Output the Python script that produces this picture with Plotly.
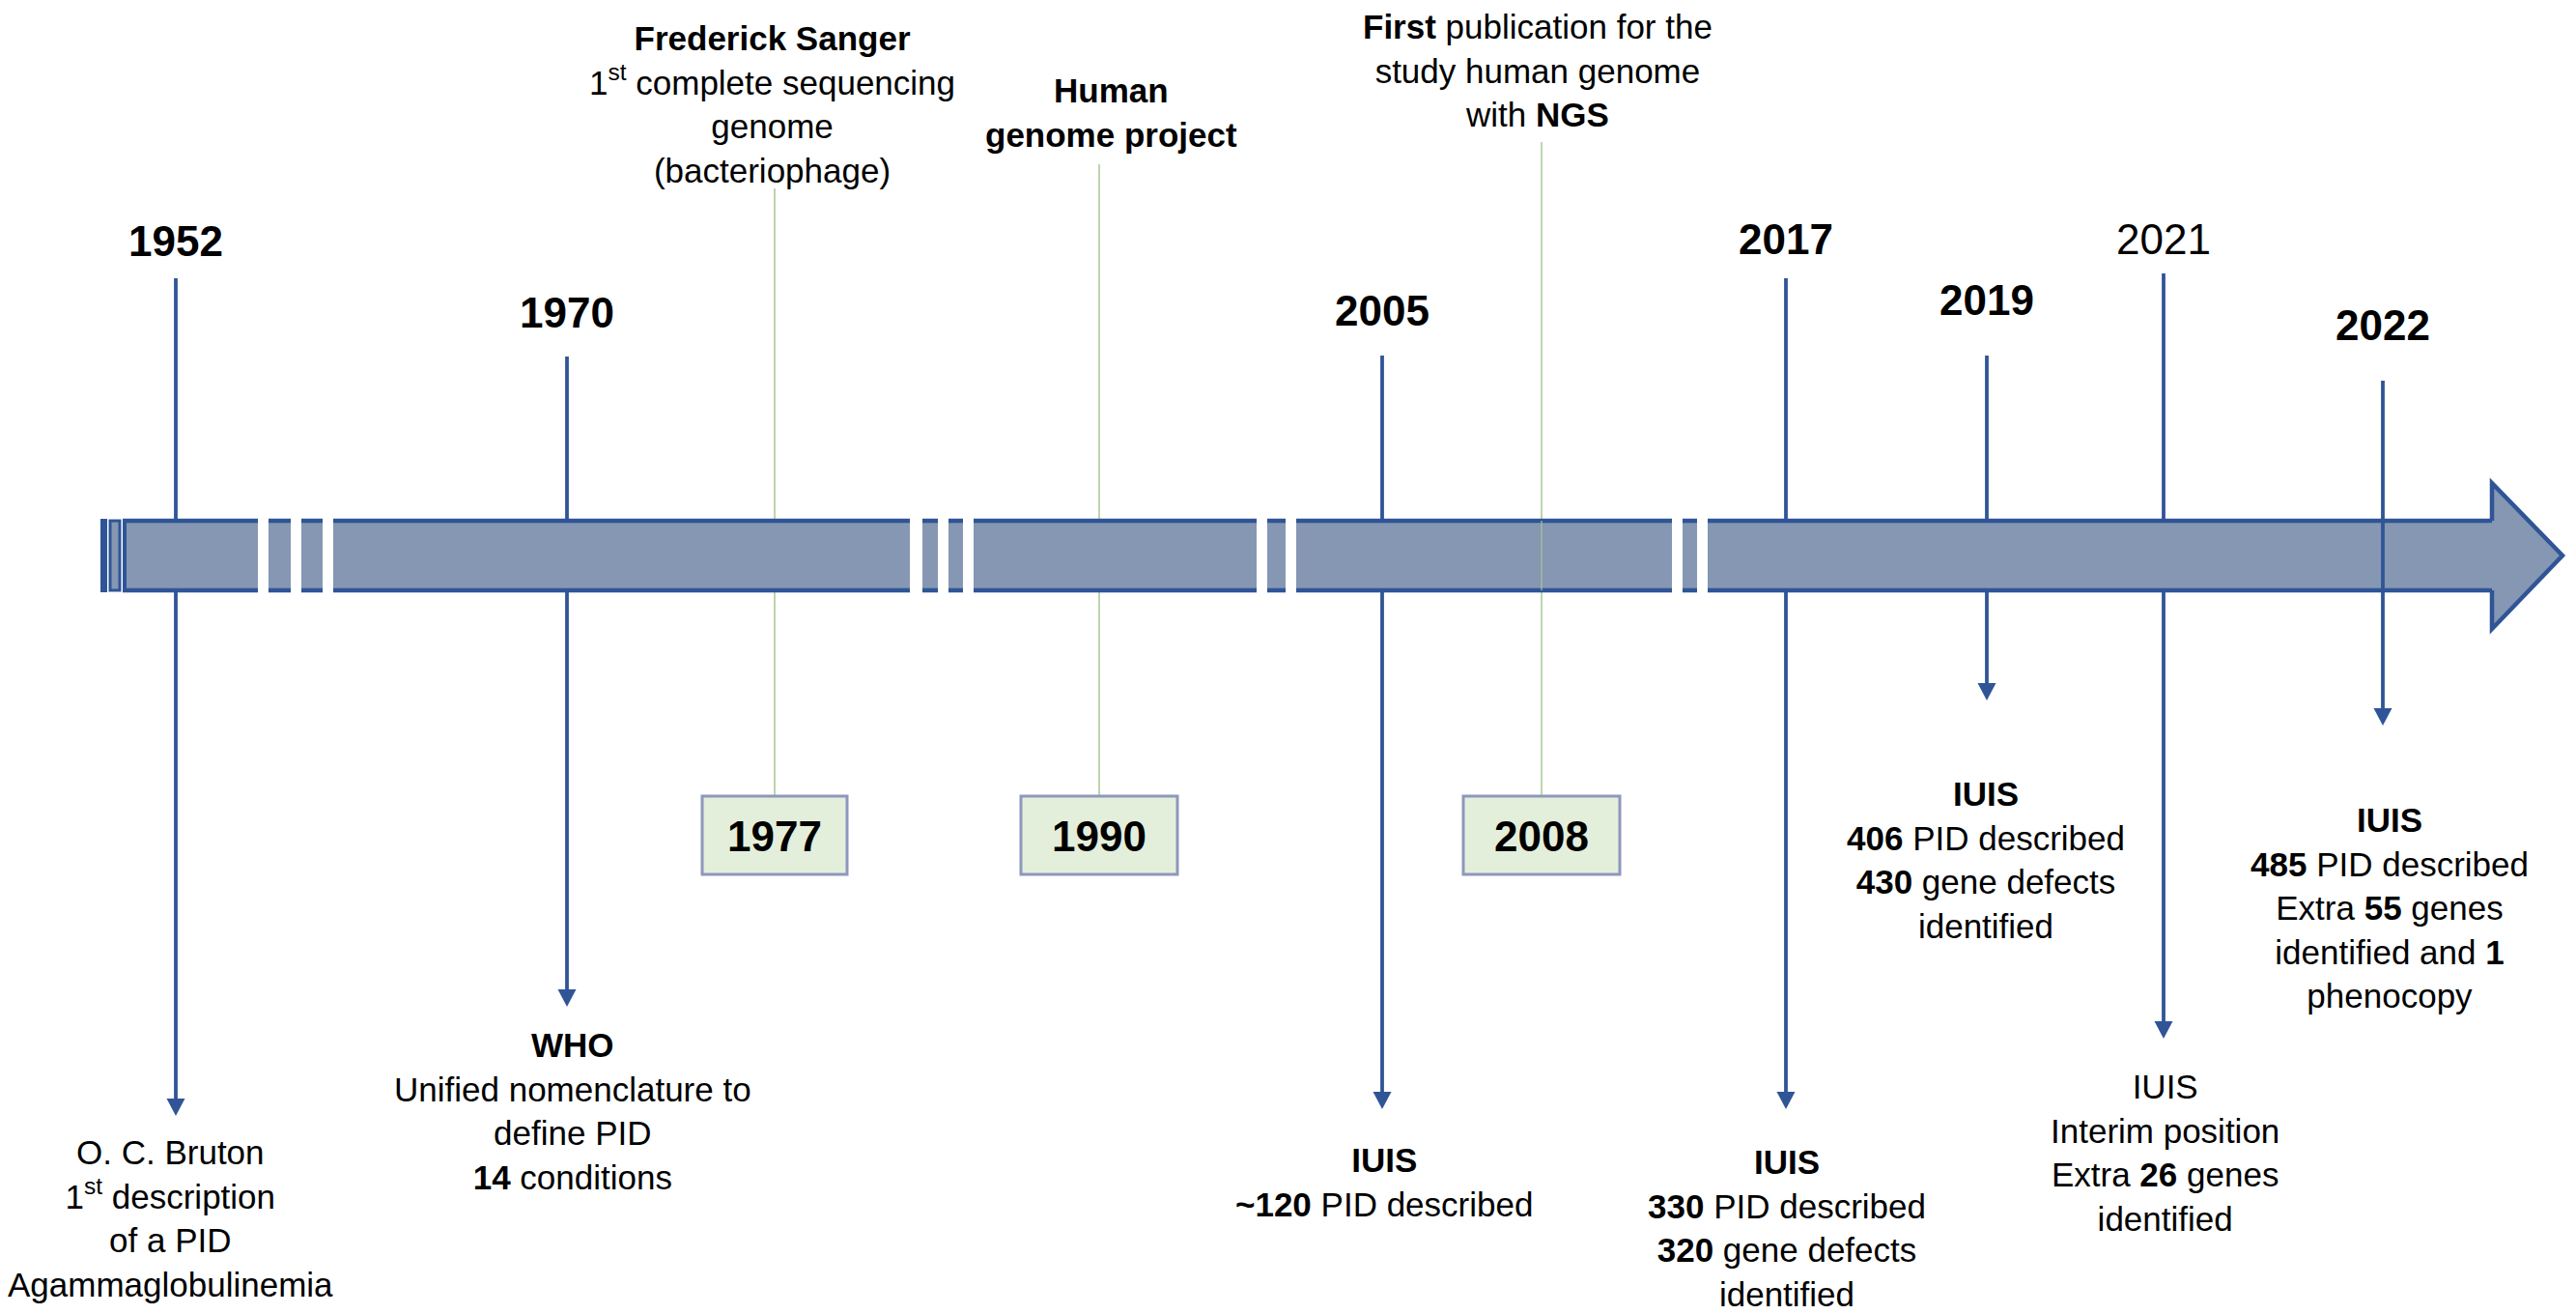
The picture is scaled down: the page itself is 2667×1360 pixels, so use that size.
import plotly.graph_objects as go

# ---------------- data ----------------
blue_years = ["1952", "1970", "2005", "2017", "2019", "2021", "2022"]
blue_year_bold = [True, True, True, True, True, False, True]
blue_desc = [
    ["O. C. Bruton", "1<sup>st</sup> description", "of a PID", "Agammaglobulinemia"],
    ["<b>WHO</b>", "Unified nomenclature to", "define PID", "<b>14</b> conditions"],
    ["<b>IUIS</b>", "<b>~120</b> PID described"],
    ["<b>IUIS</b>", "<b>330</b> PID described", "<b>320</b> gene defects", "identified"],
    ["<b>IUIS</b>", "<b>406</b> PID described", "<b>430</b> gene defects", "identified"],
    ["IUIS", "Interim position", "Extra <b>26</b> genes", "identified"],
    ["<b>IUIS</b>", "<b>485</b> PID described", "Extra <b>55</b> genes",
     "identified and <b>1</b>", "phenocopy"],
]
green_years = ["1977", "1990", "2008"]
green_desc = [
    ["<b>Frederick Sanger</b>", "1<sup>st</sup> complete sequencing", "genome", "(bacteriophage)"],
    ["<b>Human</b>", "<b>genome project</b>"],
    ["<b>First</b> publication for the", "study human genome", "with <b>NGS</b>"],
]

# ---------------- layout (pixel positions) ----------------
W, H = 2667, 1360
OFF = 8  # default page body margin
BAR_TOP, BAR_BOT = 539, 611
blue_x = [182, 587, 1431, 1849, 2057, 2240, 2467]
blue_top = [288, 369, 368, 288, 368, 283, 394]
blue_tip = [1155, 1042, 1148, 1148, 725, 1075, 751]
blue_label_y = [249, 323, 321, 247, 310, 247, 336]
blue_desc_x = [176, 593, 1433, 1850, 2056, 2241, 2474]
blue_desc_y0 = [1190, 1079, 1200, 1200, 819, 1122, 845]
green_x = [802, 1138, 1596]
green_top = [195, 170, 147]
green_text_x = [799, 1150, 1592]
green_text_y0 = [37, 93, 26]
box_half = [75, 81, 81]
BOX_TOP, BOX_BOT = 824, 905
segments = [(127, 267), (278, 301), (312, 334), (345, 942), (955, 971), (982, 997),
            (1008, 1301), (1312, 1331), (1342, 1731), (1742, 1757), (1768, 2581)]
HEAD_X, HEAD_TOP, HEAD_BOT, TIP_X = 2580, 500, 651, 2653

BLUE = "#2F5597"
FILL = "#8597B2"
GREEN = "#A6C995"
BOX_FILL = "#E3EFDB"
BOX_LINE = "#8E98BC"
FONT = "Liberation Sans, Arial, sans-serif"
FS = 35
FS_YEAR = 44
LH = 47.0

fig = go.Figure()
shapes = []
ann = []

# green connector lines (behind the bar)
for i, gx in enumerate(green_x):
    shapes.append(dict(type="line", x0=gx, x1=gx, y0=green_top[i], y1=BOX_TOP,
                       line=dict(color=GREEN, width=1.5), layer="below"))

# bar fill + outlines
for (a, b) in segments:
    shapes.append(dict(type="rect", x0=a, x1=b, y0=BAR_TOP, y1=BAR_BOT,
                       fillcolor=FILL, line=dict(width=0)))
    shapes.append(dict(type="line", x0=a, x1=b, y0=BAR_TOP, y1=BAR_TOP,
                       line=dict(color=BLUE, width=4.5)))
    shapes.append(dict(type="line", x0=a, x1=b, y0=BAR_BOT, y1=BAR_BOT,
                       line=dict(color=BLUE, width=4.5)))
# left end cap details
shapes.append(dict(type="rect", x0=104, x1=111, y0=BAR_TOP - 2, y1=BAR_BOT + 2,
                   fillcolor=BLUE, line=dict(width=0)))
shapes.append(dict(type="rect", x0=114, x1=124, y0=BAR_TOP, y1=BAR_BOT,
                   fillcolor=FILL, line=dict(color=BLUE, width=3)))
shapes.append(dict(type="line", x0=129, x1=129, y0=BAR_TOP, y1=BAR_BOT,
                   line=dict(color=BLUE, width=4)))
# arrow head
shapes.append(dict(type="path",
                   path=f"M {HEAD_X},{BAR_TOP} L {HEAD_X},{HEAD_TOP} L {TIP_X},{(BAR_TOP+BAR_BOT)/2} "
                        f"L {HEAD_X},{HEAD_BOT} L {HEAD_X},{BAR_BOT}",
                   fillcolor=FILL, line=dict(color=BLUE, width=4.5)))
shapes.append(dict(type="rect", x0=HEAD_X - 4, x1=HEAD_X + 3, y0=BAR_TOP + 2.5, y1=BAR_BOT - 2.5,
                   fillcolor=FILL, line=dict(width=0)))

# green line through bar for 2008
shapes.append(dict(type="line", x0=green_x[2], x1=green_x[2], y0=BAR_TOP, y1=BAR_BOT,
                   line=dict(color=GREEN, width=1.2)))

# green boxes
for i, gx in enumerate(green_x):
    shapes.append(dict(type="rect", x0=gx - box_half[i], x1=gx + box_half[i], y0=BOX_TOP, y1=BOX_BOT,
                       fillcolor=BOX_FILL, line=dict(color=BOX_LINE, width=3)))
    ann.append(dict(x=gx, y=(BOX_TOP + BOX_BOT) / 2 + 1, text=f"<b>{green_years[i]}</b>",
                    font=dict(size=FS_YEAR, family=FONT, color="black"),
                    showarrow=False, xanchor="center", yanchor="middle"))
    lines = green_desc[i]
    yc = green_text_y0[i] + LH * (len(lines) - 1) / 2
    ann.append(dict(x=green_text_x[i], y=yc, text="<br>".join(lines),
                    font=dict(size=FS, family=FONT, color="black"), align="center",
                    showarrow=False, xanchor="center", yanchor="middle"))

# blue lines + arrows
for i, bx in enumerate(blue_x):
    through = (i == 6)
    if through:
        shapes.append(dict(type="line", x0=bx, x1=bx, y0=blue_top[i], y1=blue_tip[i] - 14,
                           line=dict(color=BLUE, width=3.8)))
    else:
        shapes.append(dict(type="line", x0=bx, x1=bx, y0=blue_top[i], y1=BAR_TOP,
                           line=dict(color=BLUE, width=3.8)))
        shapes.append(dict(type="line", x0=bx, x1=bx, y0=BAR_BOT, y1=blue_tip[i] - 14,
                           line=dict(color=BLUE, width=3.8)))
    t = blue_tip[i]
    shapes.append(dict(type="path",
                       path=f"M {bx-9.5},{t-18} L {bx+9.5},{t-18} L {bx},{t} Z",
                       fillcolor=BLUE, line=dict(width=0)))
    ytxt = f"<b>{blue_years[i]}</b>" if blue_year_bold[i] else blue_years[i]
    ann.append(dict(x=bx, y=blue_label_y[i], text=ytxt,
                    font=dict(size=FS_YEAR, family=FONT, color="black"),
                    showarrow=False, xanchor="center", yanchor="middle"))
    lines = blue_desc[i]
    yc = blue_desc_y0[i] + LH * (len(lines) - 1) / 2
    ann.append(dict(x=blue_desc_x[i], y=yc, text="<br>".join(lines),
                    font=dict(size=FS, family=FONT, color="black"), align="center",
                    showarrow=False, xanchor="center", yanchor="middle"))

fig.update_layout(
    width=W - OFF, height=H - OFF,
    margin=dict(l=0, r=0, t=0, b=0),
    paper_bgcolor="white", plot_bgcolor="white",
    xaxis=dict(range=[OFF, W], visible=False, fixedrange=True),
    yaxis=dict(range=[H, OFF], visible=False, fixedrange=True),
    shapes=shapes, annotations=ann, showlegend=False,
)
fig.write_html("out.html")
